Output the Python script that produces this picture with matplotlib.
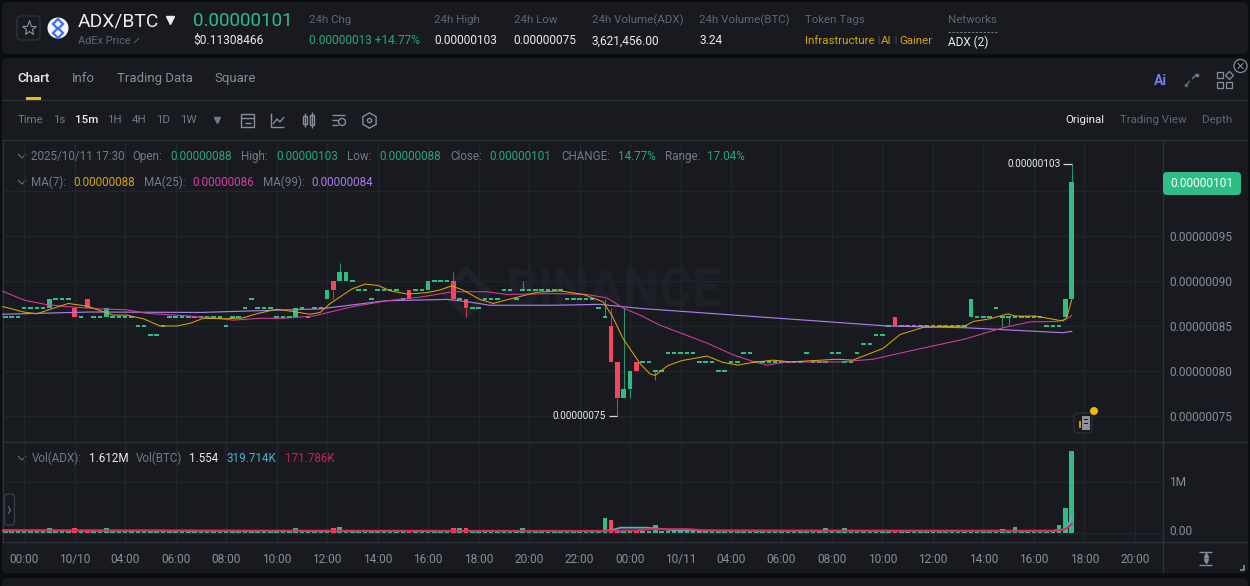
import matplotlib
matplotlib.use("Agg")
import matplotlib.pyplot as plt
from matplotlib.patches import FancyBboxPatch, Rectangle, Circle
from matplotlib.transforms import ScaledTranslation

plt.rcParams['font.family'] = ['Roboto', 'DejaVu Sans']

# ---------- data (prices in units of 1e-8 BTC, volume in millions ADX) ----------
opens = [86,86,86,87,87,87,87,87,88,88,
         88,87,86,88,86,86,86,86,86,86,
         86,85,85,84,84,85,86,86,86,86,
         86,86,86,86,86,85,86,86,87,88,
         87,87,87,86,86,86,86,87,86,87,
         87,88,90,90,90,90,89,89,88,89,
         89,89,89,88,89,89,89,89,90,90,
         90,90,88,88,87,87,88,88,88,89,
         89,88,89,89,89,89,89,89,89,88,
         88,88,88,88,87,86,85,81,77,78,
         81,81,81,80,80,82,82,82,82,82,
         81,81,81,80,80,81,81,82,82,81,
         81,81,81,81,81,81,81,82,81,81,
         81,82,82,81,81,82,83,83,84,84,
         85,86,85,85,85,85,85,85,85,85,
         85,85,85,86,86,86,86,87,86,86,
         86,86,86,86,86,85,85,85,86,88]
closes = [86,86,86,87,87,87,87,88,88,88,
          88,86,86,87,86,86,87,86,86,86,
          86,85,85,84,84,85,86,86,86,86,
          86,86,86,86,86,85,86,86,87,88,
          87,87,87,86,86,86,87,87,86,87,
          87,89,89,91,91,90,89,89,88,89,
          89,89,89,88,88,89,89,90,90,90,
          90,88,88,87,87,87,88,88,88,89,
          89,88,89,89,89,89,89,89,89,88,
          88,88,88,88,87,86,81,77,78,80,
          80,81,81,80,80,82,82,82,82,82,
          81,81,81,80,80,81,81,82,82,81,
          81,81,81,81,81,81,81,82,81,81,
          81,82,82,81,81,82,83,83,84,84,
          85,85,85,85,85,85,85,85,85,85,
          85,85,85,88,86,86,86,87,86,86,
          86,86,86,86,86,85,85,85,88,101]
high_wicks = {53: 92, 71: 91, 82: 90, 95: 88, 96: 87, 98: 87, 169: 103}
low_wicks = {52: 88, 73: 86, 97: 75, 99: 77, 103: 79, 158: 85, 159: 85}

volumes = [.03,.03,.03,.03,.03,.03,.03,.09,.03,.03,
           .03,.09,.03,.05,.03,.03,.09,.03,.03,.03,
           .03,.03,.03,.03,.03,.03,.03,.03,.03,.03,
           .03,.03,.03,.03,.03,.03,.03,.03,.03,.03,
           .03,.03,.03,.03,.03,.03,.09,.03,.03,.03,
           .03,.03,.09,.12,.03,.03,.03,.03,.03,.03,
           .03,.03,.03,.03,.03,.03,.03,.03,.03,.03,
           .03,.09,.10,.09,.03,.03,.03,.03,.03,.03,
           .03,.03,.10,.03,.03,.03,.03,.03,.03,.03,
           .03,.03,.03,.03,.03,.29,.25,.06,.06,.05,
           .06,.03,.03,.15,.03,.03,.03,.03,.03,.03,
           .03,.03,.03,.03,.03,.03,.03,.03,.03,.03,
           .03,.03,.03,.03,.03,.03,.03,.03,.03,.03,
           .09,.03,.03,.10,.03,.03,.03,.03,.03,.03,
           .03,.03,.03,.03,.03,.03,.03,.03,.03,.03,
           .03,.03,.03,.03,.03,.03,.03,.03,.08,.03,
           .11,.03,.03,.03,.03,.03,.03,.15,.50,1.612]

ma7_idx = [-0.4,1.3,2.9,5,7.1,10,13,17.1,19.2,21.9,24.5,27.2,29.3,31.4,35.1,37.7,39.8,43,45.6,48.3,
           49.9,51.5,54.9,57,59.1,61,63.7,66.8,68.9,70.7,72.5,75.2,77.3,80,84.3,87.9,91.6,94.7,96.1,
           97.9,100.6,102.2,103,105,107.2,111.2,113.7,116.1,118.5,121.7,124.4,131.8,134.3,139.1,141.8,
           145.5,152.1,153.4,156.1,158.9,160,163.2,167.6,168.2,169]
ma7_val = [87.15,86.85,86.55,86.35,86.85,87.5,87.2,86.2,86.2,85.8,85,85,85.3,85.85,85.8,85.9,86.35,86.85,86.6,86.3,
           86.5,87.5,89.1,89.65,89.5,88.9,88.55,88.7,89,89.45,89,87.95,87.5,88,88.75,88.9,88.5,87.7,86.2,
           83.6,80.8,79.65,79.5,80.6,81.15,81.65,80.95,80.65,80.95,81.2,81,81.3,81.2,82.5,84.05,
           84.85,85,85.5,85.8,86.35,86.1,86.1,85.55,85.95,87.9]
ma25_idx = [-0.4,3.1,6.3,9.7,15,19.2,22.4,28.2,32.9,36.1,40.4,44,48.8,55.1,60.5,65.7,70.9,76.3,79.5,86.8,
            92.2,95.4,97.9,100.6,103.7,111.2,115.3,118.5,120.7,123.9,132.3,137.5,142.9,152.1,158.1,162.4,
            166.7,168.3,169]
ma25_val = [88.85,87.85,87.4,87.15,86.9,86.8,86.4,86.15,85.9,85.65,85.85,85.85,86.1,87.15,87.8,88.2,88.8,88.8,88.5,88.6,
            88.5,88.1,87,86.2,85.1,83.1,81.8,81.05,80.65,81,81,81.3,82.15,83.55,84.8,85.45,
            85.5,85.8,86.2]
ma99_idx = [-0.5,13.4,30.9,49.9,60.3,70,73.2,76.8,86.8,94.2,100.6,139.7,152.1,167.6,169]
ma99_val = [86.3,86.55,86.5,86.9,87.8,87.95,87.7,87.3,87.3,87.4,86.95,85,84.8,84.25,84.4]

vol_line_idx_a = [-0.5,50,95,96.5,97.5,101.5,104,106,125,166,167.5,168.5,169]
vol_line_val_a = [.05,.04,.04,.07,.105,.105,.08,.05,.045,.045,.06,.17,.33]
vol_line_idx_b = [-0.5,94,100,102,108,112,166,167.5,168.3,169]
vol_line_val_b = [.05,.04,.05,.075,.075,.045,.04,.06,.10,.18]

price_ticks = [75, 80, 85, 90, 95, 100]
time_tick_idx = [3,11,19,27,35,43,51,59,67,75,83,91,99,107,115,123,131,139,147,155,163,171,179]
time_labels = ['00:00','10/10','04:00','06:00','08:00','10:00','12:00','14:00','16:00','18:00','20:00','22:00',
               '00:00','10/11','04:00','06:00','08:00','10:00','12:00','14:00','16:00','18:00','20:00']

# ---------- colours ----------
PAGE = '#0b0e11'; PANEL = '#181a20'; GRID = '#21262c'; SEP = '#2b3139'
GREEN = '#2ebd85'; RED = '#f6465d'; DIM = '#707a8a'; TXT = '#eaecef'; GOLD = '#d9a30a'
TGREEN = '#26a87a'; MA7C = '#d9a30a'; MA25C = '#d83da3'; MA99C = '#a97de8'

fig = plt.figure(figsize=(12.5, 5.86), dpi=100, facecolor=PAGE)

# ---------- chrome layers in pixel coordinates ----------
ui = fig.add_axes([0, 0, 1, 1], zorder=0)
ui.set_xlim(0, 1250); ui.set_ylim(586, 0); ui.axis('off')
top = fig.add_axes([0, 0, 1, 1], zorder=5)
top.set_xlim(0, 1250); top.set_ylim(586, 0); top.axis('off'); top.patch.set_alpha(0)

def T(x, y, s, px=12, c=DIM, target=None, **kw):
    kw.setdefault('va', 'center'); kw.setdefault('ha', 'left')
    (target or ui).text(x, y + 0.8, s, fontsize=px * 0.72, color=c, **kw)

def L(xs, ys, c=DIM, lw=1.0, **kw):
    ui.plot(xs, ys, color=c, lw=lw, solid_capstyle='butt', **kw)

def box(x, y, w, h, r=0, fc='none', ec='none', lw=1.0, z=1, target=None):
    (target or ui).add_patch(FancyBboxPatch((x, y), w, h, boxstyle=f'round,pad=0,rounding_size={r}',
                                            fc=fc, ec=ec, lw=lw, zorder=z, mutation_aspect=1))

box(2, 2, 1246, 52, r=6, fc=PANEL)
box(2, 58, 1246, 515, r=6, fc=PANEL)
box(2, 578, 1246, 20, r=6, fc=PANEL)

# header
box(17, 16, 23, 24, r=4, ec='#2b3139')
ui.plot([28.5], [28], marker='*', ms=11, mfc='none', mec='#848e9c', mew=0.8)
ui.add_patch(Circle((58, 28), 10.5, fc='#f2f4f8', ec='none', zorder=2))
ui.plot([58, 58], [23.5, 32.5], ls='none', marker='D', ms=5.5, mfc='none', mec='#3b72ee', mew=1.6, zorder=3)
T(78, 20.5, 'ADX/BTC', 19.3, TXT)
ui.plot([170], [19.5], marker='v', ms=6, color=TXT)
T(78, 40, 'AdEx Price', 11, '#5e6673')
L([134, 139], [43, 38], '#5e6673', 0.7)
T(193.5, 20.5, '0.00000101', 18.9, GREEN)
T(193.5, 40, '$0.11308466', 12, TXT)
for x, a, b in [(309, '24h Chg', None), (434.5, '24h High', '0.00000103'), (513.5, '24h Low', '0.00000075'),
                (591.5, '24h Volume(ADX)', '3,621,456.00'), (699, '24h Volume(BTC)', '3.24')]:
    T(x, 19, a, 11.5, '#5e6673')
    if b:
        T(x, 40, b, 11.9, TXT)
T(309, 40, '0.00000013 +14.77%', 11.9, TGREEN)
T(805, 19, 'Token Tags', 11.5, '#5e6673')
T(805, 40, 'Infrastructure', 11.5, GOLD)
T(877, 40, '|', 9, '#5e6673')
T(881, 40, 'AI', 11.5, GOLD)
T(894, 40, '|', 9, '#5e6673')
T(899, 40, 'Gainer', 11.5, GOLD)
T(948, 19, 'Networks', 11.5, '#5e6673')
L([948, 997], [31.5, 31.5], '#707a8a', 0.7, ls=(0, (2.5, 1.5)))
T(948, 42, 'ADX (2)', 11.8, TXT)

# tabs
T(17, 77.5, 'Chart', 13.2, TXT, fontweight='medium')
T(72, 77.5, 'Info', 13.2, '#848e9c')
T(117, 77.5, 'Trading Data', 13.2, '#848e9c')
T(214, 77.5, 'Square', 13.2, '#848e9c')
ui.add_patch(Rectangle((25.5, 96.5), 15.5, 3, fc='#f0b90b', ec='none', zorder=3))
L([2, 1248], [99.5, 99.5], SEP)
T(1153.5, 80, 'Ai', 14, '#6f7dee', fontweight='bold')
L([1185, 1190], [86, 81], '#5e6673'); L([1192, 1197], [79, 74], '#707a8a')
ui.plot([1186], [85], marker='s', ms=2, color='#5e6673')
ui.plot([1196.5], [74.5], marker='s', ms=2, color='#707a8a')
for bx, by in [(1216.5, 72), (1216.5, 81.5), (1225.5, 81.5)]:
    ui.add_patch(Rectangle((bx, by), 6, 6, fc='none', ec='#848e9c', lw=0.9, zorder=3))
ui.plot([1228.5], [75], marker='D', ms=4.5, mfc='none', mec='#848e9c', mew=0.9)
ui.add_patch(Circle((1240.5, 66), 6.5, fc=PAGE, ec='#848e9c', lw=0.9, zorder=4))
ui.plot([1238, 1243], [63.5, 68.5], c='#848e9c', lw=0.8, zorder=5)
ui.plot([1238, 1243], [68.5, 63.5], c='#848e9c', lw=0.8, zorder=5)

# toolbar
for x, s, c, w in [(18, 'Time', DIM, 'normal'), (53.5, '1s', DIM, 'normal'), (75, '15m', TXT, 'medium'),
                   (107.5, '1H', DIM, 'normal'), (131.5, '4H', DIM, 'normal'), (156.5, '1D', DIM, 'normal'),
                   (180.5, '1W', DIM, 'normal')]:
    T(x, 119.5, s, 11.5, c, fontweight=w)
ui.plot([217], [119.5], marker='v', ms=5, color=DIM)
ui.add_patch(Rectangle((241, 114), 13, 13, fc='none', ec='#848e9c', lw=1, zorder=3))
L([241, 254], [118, 118], '#848e9c'); L([244.5, 251], [122.5, 122.5], '#848e9c')
L([271, 271, 284], [113, 127, 127], '#848e9c'); L([273, 277, 280, 284], [124, 119, 122, 117], '#848e9c')
ui.add_patch(Rectangle((303, 116), 4, 8, fc='none', ec='#848e9c', lw=1, zorder=3))
ui.add_patch(Rectangle((310, 115), 4, 10, fc='none', ec='#848e9c', lw=1, zorder=3))
L([305, 305], [113, 127], '#848e9c'); L([312, 312], [112, 128], '#848e9c')
L([332, 345], [115, 115], '#848e9c'); L([332, 338], [120, 120], '#848e9c'); L([332, 338], [125, 125], '#848e9c')
ui.add_patch(Circle((342, 122), 3.5, fc='none', ec='#848e9c', lw=1, zorder=3))
ui.plot([368.5], [120], marker='h', ms=11, mfc='none', mec='#848e9c', mew=1)
ui.plot([368.5], [120], marker='o', ms=3, mfc='none', mec='#848e9c', mew=1)
T(1065, 119.5, 'Original', 11.5, TXT)
T(1120, 119.5, 'Trading View', 11.5, '#5e6673')
T(1202, 119.5, 'Depth', 11.5, '#5e6673')
L([2, 1248], [139.5, 139.5], SEP)

# watermark
ui.plot([466], [292], marker='D', ms=22, mfc='none', mec='#1f2329', mew=5, zorder=1)
T(506, 292, 'BINANCE', 51, '#1d2026', fontweight='bold', zorder=1)

# legend rows
def chev(y):
    L([18, 22, 26], [y - 2, y + 2, y - 2], '#5e6673', 0.9)
chev(156)
for x, s, c in [(31, '2025/10/11 17:30', DIM), (132, 'Open:', DIM), (170, '0.00000088', TGREEN),
                (241.5, 'High:', DIM), (276, '0.00000103', TGREEN), (347.5, 'Low:', DIM),
                (379, '0.00000088', TGREEN), (450, 'Close:', DIM), (489.5, '0.00000101', TGREEN),
                (561, 'CHANGE:', DIM), (618, '14.77%', TGREEN), (665, 'Range:', DIM), (707.5, '17.04%', TGREEN)]:
    T(x, 155.5, s, 11.6, c, target=top)
chev(182)
for x, s, c in [(31, 'MA(7):', DIM), (73, '0.00000088', GOLD), (144, 'MA(25):', DIM), (192, '0.00000086', MA25C),
                (263, 'MA(99):', DIM), (311.5, '0.00000084', MA99C)]:
    T(x, 181.5, s, 11.6, c, target=top)
chev(458)
for x, s, c in [(31.5, 'Vol(ADX):', DIM), (88.5, '1.612M', TXT), (135.5, 'Vol(BTC)', DIM), (188.5, '1.554', TXT),
                (226.5, '319.714K', '#4fb3c9'), (285, '171.786K', '#c8234f')]:
    T(x, 457.5, s, 11.6, c, target=top)

# scale furniture
L([1162.5, 1162.5], [140, 573], SEP)
L([2.5, 2.5], [140, 542], SEP)
L([2, 1248], [442, 442], SEP)
L([2, 1248], [542, 542], SEP)
box(1163, 172, 78, 23, r=4, fc=GREEN, z=5)
T(1202, 183, '0.00000101', 12, '#f5fffb', ha='center', zorder=6)
box(4.5, 494, 10, 31, r=3, ec='#3a4048', lw=0.9)
L([8, 10.5, 8], [506, 510, 514], '#5e6673', 0.9)
L([1199, 1212], [551.5, 551.5], '#848e9c'); L([1199, 1212], [564.5, 564.5], '#848e9c')
L([1205.5, 1205.5], [554, 562], '#848e9c')
ui.plot([1205.5], [555], marker='^', ms=3, color='#848e9c')
ui.plot([1205.5], [561], marker='v', ms=3, color='#848e9c')
L([1244, 1244, 1240], [565, 570, 570], '#848e9c', 1.2)
# alert marker
box(1074, 413, 18, 20, r=4, fc=PANEL, ec='#2b3139', lw=0.9, target=top)
top.add_patch(Rectangle((1082, 415.5), 8, 14, fc='#8a919c', ec='none', zorder=3))
top.add_patch(Rectangle((1084, 419), 4, 1, fc=PANEL, ec='none', zorder=4))
top.add_patch(Rectangle((1084, 423), 4, 1, fc=PANEL, ec='none', zorder=4))
top.add_patch(Rectangle((1078.5, 420.5), 2.5, 7, fc='#c9950e', ec='none', zorder=3))
top.add_patch(Circle((1094, 411), 4, fc='#f0b90b', ec='none', zorder=5))

# ---------- price pane ----------
XL = (-0.52, 183.3)
ax = fig.add_axes([2 / 1250, (586 - 442) / 586, 1160 / 1250, 302 / 586], zorder=2)
ax.patch.set_alpha(0)
ax.set_xlim(*XL); ax.set_ylim(72.1, 105.67)
idx = list(range(len(closes)))
cols = [GREEN if c >= o else RED for o, c in zip(opens, closes)]
bot = [min(o, c) for o, c in zip(opens, closes)]
hgt = [max(abs(c - o), 0.2) for o, c in zip(opens, closes)]
bot = [b - 0.1 if abs(c - o) == 0 else b for b, o, c in zip(bot, opens, closes)]
for i, h in high_wicks.items():
    ax.plot([i, i], [max(opens[i], closes[i]), h], color=cols[i], lw=0.8, alpha=0.75, solid_capstyle='butt', zorder=2)
for i, l in low_wicks.items():
    ax.plot([i, i], [l, min(opens[i], closes[i])], color=cols[i], lw=0.8, alpha=0.75, solid_capstyle='butt', zorder=2)
ax.bar(idx, hgt, bottom=bot, width=0.72, color=cols, linewidth=0, zorder=3)
ax.plot(ma99_idx, ma99_val, color=MA99C, lw=0.85, zorder=4)
ax.plot(ma25_idx, ma25_val, color=MA25C, lw=0.75, zorder=5)
ax.plot(ma7_idx, ma7_val, color=MA7C, lw=0.75, zorder=6)
ax.plot([167.6, 169], [103, 103], color='#d5d8dc', lw=0.9, zorder=6, solid_capstyle='butt')
ax.text(167.2, 103, '0.00000103', color=TXT, fontsize=7.2, ha='right', va='center')
ax.plot([95.6, 97], [75, 75], color='#d5d8dc', lw=0.9, zorder=6, solid_capstyle='butt')
ax.text(95.2, 75, '0.00000075', color=TXT, fontsize=7.2, ha='right', va='center')
ax.yaxis.tick_right()
ax.set_yticks(price_ticks)
ax.set_yticklabels(['' if t == 100 else f'{t * 1e-8:.8f}' for t in price_ticks])
ax.set_xticks(time_tick_idx); ax.set_xticklabels([])
ax.grid(True, color=GRID, lw=1, zorder=0)
ax.set_axisbelow(True)
ax.tick_params(length=0, labelcolor='#848e9c', labelsize=8.6, pad=5)
for s in ax.spines.values():
    s.set_visible(False)

# ---------- volume pane ----------
av = fig.add_axes([2 / 1250, (586 - 542) / 586, 1160 / 1250, 100 / 586], zorder=2)
av.patch.set_alpha(0)
av.set_xlim(*XL); av.set_ylim(-0.176, 1.784)
av.bar(idx, volumes, width=0.72, color=cols, linewidth=0, zorder=3)
av.plot(vol_line_idx_a, vol_line_val_a, color='#4fb3c9', lw=1.3, zorder=4)
av.plot(vol_line_idx_b, vol_line_val_b, color='#e0285f', lw=1.5, zorder=5)
av.yaxis.tick_right()
av.set_yticks([0, 1]); av.set_yticklabels(['0.00', '1M'])
av.set_xticks(time_tick_idx); av.set_xticklabels(time_labels)
av.grid(True, color=GRID, lw=1, zorder=0)
av.set_axisbelow(True)
av.tick_params(axis='y', length=0, labelcolor='#848e9c', labelsize=8.6, pad=5)
av.tick_params(axis='x', length=0, labelcolor='#848e9c', labelsize=8.6, pad=8)
for lab, up in zip(av.get_yticklabels(), [0.03, 0.01]):
    lab.set_transform(lab.get_transform() + ScaledTranslation(0, up, fig.dpi_scale_trans))
for s in av.spines.values():
    s.set_visible(False)

fig.savefig('out.png', dpi=100, facecolor=PAGE)
